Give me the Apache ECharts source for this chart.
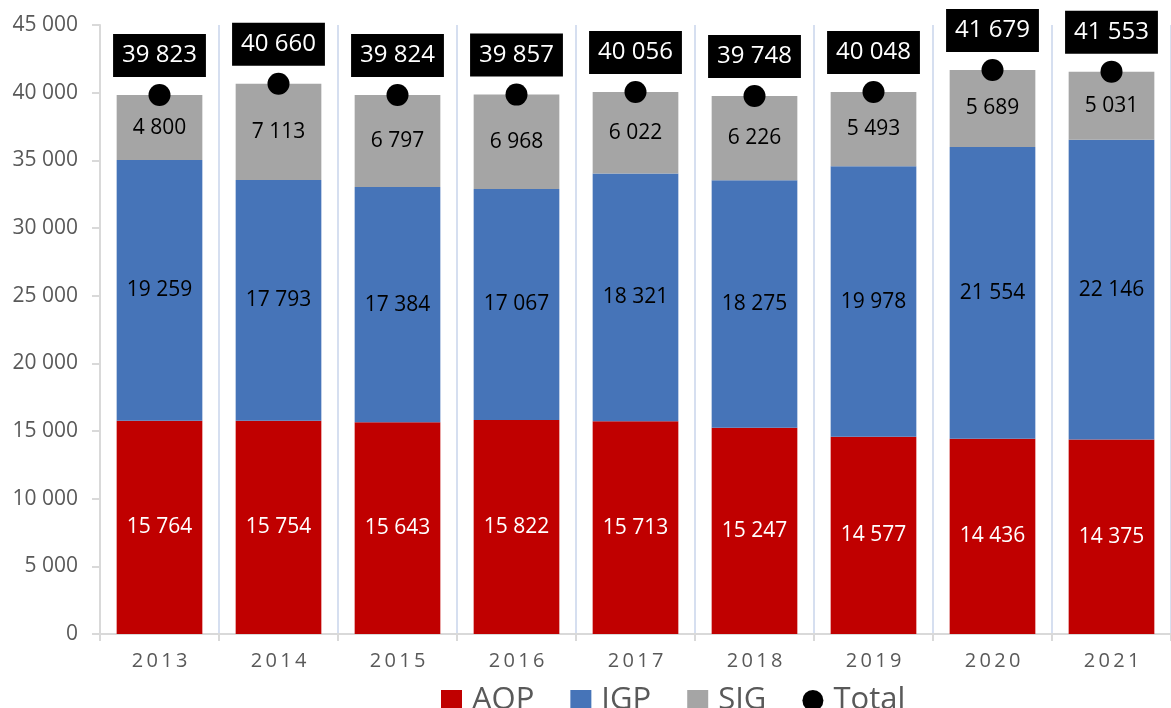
<!DOCTYPE html>
<html>
<head>
<meta charset="utf-8">
<script src="https://cdn.jsdelivr.net/npm/echarts@6/dist/echarts.min.js"></script>
<style>
html,body{margin:0;padding:0;background:#fff;}
#chart{width:1171px;height:708px;}
</style>
</head>
<body>
<div id="chart"></div>
<script>
const years = ['2013','2014','2015','2016','2017','2018','2019','2020','2021'];
const aop = [15764, 15754, 15643, 15822, 15713, 15247, 14577, 14436, 14375];
const igp = [19259, 17793, 17384, 17067, 18321, 18275, 19978, 21554, 22146];
const sig = [4800, 7113, 6797, 6968, 6022, 6226, 5493, 5689, 5031];
const total = [39823, 40660, 39824, 39857, 40056, 39748, 40048, 41679, 41553];
const yMin = 0, yMax = 45000, yStep = 5000;

const FONT = '"Open Sans", "Noto Sans", sans-serif';
const fmt = v => String(v).replace(/\B(?=(\d{3})+(?!\d))/g, ' ');

const chart = echarts.init(document.getElementById('chart'));
const barLabel = (color) => ({
  show: true, position: 'inside', color: color, fontSize: 21, fontFamily: FONT,
  formatter: p => fmt(p.value)
});
chart.setOption({
  animation: false,
  textStyle: { fontFamily: FONT },
  grid: { left: 100, top: 25, width: 1082, height: 609, containLabel: false },
  legend: {
    left: 436, top: 678,
    itemWidth: 21, itemHeight: 21, itemGap: 36,
    textStyle: { fontSize: 31, color: '#595959', fontFamily: FONT, lineHeight: 31, padding: [0, 0, 4, 5] },
    data: [
      { name: 'AOP', icon: 'rect' },
      { name: 'IGP', icon: 'rect' },
      { name: 'SIG', icon: 'rect' },
      { name: 'Total', icon: 'circle' }
    ]
  },
  xAxis: {
    type: 'category', data: years, boundaryGap: true,
    axisLine: { show: true, lineStyle: { color: '#d9d9d9', width: 2 } },
    axisTick: { show: true, length: 7, lineStyle: { color: '#d9d9d9', width: 2 } },
    splitLine: { show: true, lineStyle: { color: '#d6dff0', width: 2 } },
    axisLabel: {
      color: '#595959', fontSize: 20, fontFamily: FONT, margin: 17,
      formatter: v => v.split('').join('\u2009')
    }
  },
  yAxis: {
    type: 'value', min: yMin, max: yMax, interval: yStep,
    axisLine: { show: true, lineStyle: { color: '#d9d9d9', width: 2 } },
    axisTick: { show: true, length: 8, lineStyle: { color: '#d9d9d9', width: 2 } },
    splitLine: { show: false },
    axisLabel: { color: '#595959', fontSize: 21, fontFamily: FONT, margin: 22, formatter: v => fmt(v) }
  },
  series: [
    { name: 'AOP', type: 'bar', stack: 's', barWidth: '72%', data: aop,
      itemStyle: { color: '#c00000' }, label: barLabel('#ffffff') },
    { name: 'IGP', type: 'bar', stack: 's', data: igp,
      itemStyle: { color: '#4674b8' }, label: barLabel('#000000') },
    { name: 'SIG', type: 'bar', stack: 's', data: sig,
      itemStyle: { color: '#a5a5a5' }, label: barLabel('#000000') },
    { name: 'Total', type: 'scatter', data: total, symbol: 'circle', symbolSize: 22, z: 5,
      itemStyle: { color: '#000000', opacity: 1 },
      label: {
        show: true, position: 'top', distance: 7,
        backgroundColor: '#000000', color: '#ffffff', fontSize: 24, fontFamily: FONT,
        lineHeight: 29, padding: [7, 9, 7, 9],
        formatter: p => fmt(p.value)
      }
    }
  ]
});
</script>
</body>
</html>
